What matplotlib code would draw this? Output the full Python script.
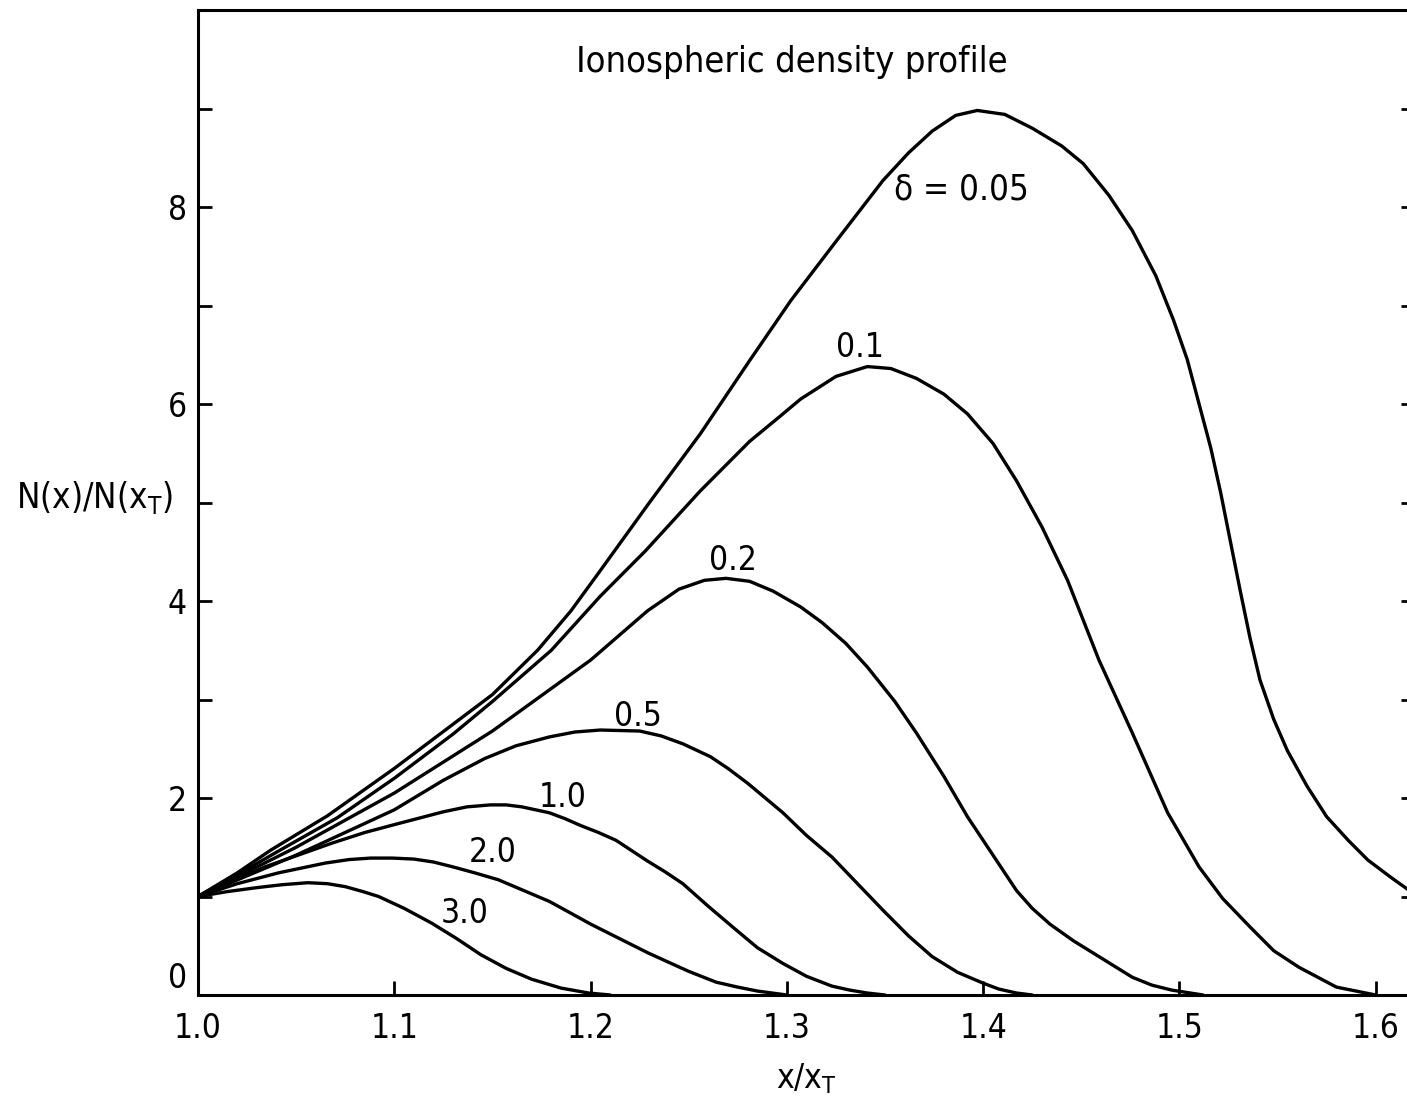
import matplotlib
matplotlib.use("Agg")
import matplotlib.pyplot as plt

plt.rcParams['font.family'] = ['DejaVu Sans']
plt.rcParams['font.stretch'] = 'condensed'

# delta = 0.05
x_005 = [1.000, 1.020, 1.037, 1.066, 1.100, 1.130, 1.150, 1.173, 1.190, 1.205, 1.230, 1.256,
         1.281, 1.302, 1.325, 1.349, 1.362, 1.374, 1.386, 1.397, 1.411, 1.425, 1.440, 1.451,
         1.464, 1.476, 1.488, 1.497, 1.504, 1.510, 1.516, 1.521, 1.526, 1.531, 1.536, 1.541,
         1.548, 1.555, 1.565, 1.575, 1.586, 1.596, 1.608, 1.620]
y_005 = [1.00, 1.24, 1.47, 1.82, 2.30, 2.75, 3.05, 3.50, 3.90, 4.31, 5.00, 5.70,
         6.44, 7.05, 7.65, 8.27, 8.55, 8.77, 8.93, 8.98, 8.94, 8.80, 8.62, 8.44,
         8.12, 7.76, 7.30, 6.85, 6.45, 6.00, 5.55, 5.10, 4.60, 4.10, 3.62, 3.20,
         2.80, 2.48, 2.12, 1.81, 1.57, 1.37, 1.19, 1.02]
# delta = 0.1
x_01 = [1.000, 1.020, 1.040, 1.071, 1.100, 1.130, 1.150, 1.180, 1.205, 1.228, 1.256, 1.281,
        1.295, 1.307, 1.325, 1.341, 1.353, 1.366, 1.380, 1.392, 1.405, 1.417, 1.430, 1.443,
        1.459, 1.476, 1.494, 1.510, 1.522, 1.536, 1.548, 1.561, 1.580, 1.600]
y_01 = [1.00, 1.22, 1.45, 1.80, 2.20, 2.65, 2.98, 3.50, 4.05, 4.51, 5.12, 5.62,
        5.85, 6.05, 6.28, 6.38, 6.36, 6.26, 6.10, 5.90, 5.60, 5.22, 4.75, 4.21,
        3.40, 2.66, 1.85, 1.30, 0.98, 0.69, 0.45, 0.28, 0.08, 0.00]
# delta = 0.2
x_02 = [1.000, 1.050, 1.100, 1.150, 1.200, 1.229, 1.245, 1.258, 1.269, 1.281, 1.293, 1.307,
        1.318, 1.330, 1.341, 1.355, 1.366, 1.380, 1.392, 1.405, 1.417, 1.425, 1.434, 1.446,
        1.459, 1.476, 1.486, 1.496, 1.512]
y_02 = [1.00, 1.50, 2.05, 2.68, 3.40, 3.90, 4.12, 4.21, 4.23, 4.20, 4.10, 3.94,
        3.78, 3.57, 3.33, 2.98, 2.66, 2.22, 1.81, 1.42, 1.06, 0.88, 0.72, 0.55,
        0.39, 0.18, 0.10, 0.05, 0.00]
# delta = 0.5
x_05 = [1.000, 1.050, 1.100, 1.125, 1.146, 1.162, 1.179, 1.192, 1.205, 1.225, 1.236, 1.247,
        1.261, 1.270, 1.280, 1.298, 1.310, 1.323, 1.336, 1.349, 1.362, 1.374, 1.387, 1.400,
        1.408, 1.417, 1.425]
y_05 = [1.00, 1.42, 1.88, 2.18, 2.40, 2.53, 2.62, 2.67, 2.69, 2.68, 2.63, 2.55,
        2.42, 2.30, 2.15, 1.85, 1.62, 1.40, 1.13, 0.86, 0.60, 0.39, 0.23, 0.12,
        0.06, 0.02, 0.00]
# delta = 1.0
x_10 = [1.000, 1.034, 1.068, 1.085, 1.102, 1.125, 1.137, 1.149, 1.157, 1.165, 1.179, 1.187,
        1.195, 1.204, 1.213, 1.229, 1.238, 1.247, 1.260, 1.273, 1.285, 1.298, 1.310, 1.323,
        1.332, 1.341, 1.350]
y_10 = [1.00, 1.30, 1.54, 1.65, 1.74, 1.86, 1.91, 1.93, 1.93, 1.91, 1.85, 1.79,
        1.72, 1.65, 1.57, 1.36, 1.25, 1.13, 0.90, 0.68, 0.48, 0.32, 0.19, 0.09,
        0.05, 0.02, 0.00]
# delta = 2.0
x_20 = [1.000, 1.020, 1.041, 1.065, 1.077, 1.088, 1.099, 1.110, 1.120, 1.130, 1.141, 1.153,
        1.166, 1.179, 1.190, 1.200, 1.214, 1.229, 1.240, 1.250, 1.264, 1.275, 1.285, 1.300]
y_20 = [1.00, 1.13, 1.24, 1.34, 1.375, 1.39, 1.39, 1.38, 1.35, 1.30, 1.24, 1.17,
        1.06, 0.95, 0.83, 0.72, 0.58, 0.43, 0.33, 0.24, 0.13, 0.08, 0.04, 0.00]
# delta = 3.0
x_30 = [1.000, 1.015, 1.030, 1.043, 1.056, 1.066, 1.075, 1.084, 1.092, 1.105, 1.119, 1.132,
        1.144, 1.157, 1.170, 1.185, 1.199, 1.210]
y_30 = [1.00, 1.05, 1.09, 1.12, 1.14, 1.13, 1.10, 1.05, 1.00, 0.88, 0.73, 0.57,
        0.41, 0.27, 0.16, 0.07, 0.02, 0.00]

curves = [(x_005, y_005), (x_01, y_01), (x_02, y_02), (x_05, y_05),
          (x_10, y_10), (x_20, y_20), (x_30, y_30)]
labels = ["\u03b4 = 0.05", "0.1", "0.2", "0.5", "1.0", "2.0", "3.0"]
label_pos = [(1.389, 8.18), (1.337, 6.57), (1.2725, 4.41), (1.224, 2.83),
             (1.186, 2.01), (1.150, 1.45), (1.136, 0.83)]

x_ticks = [1.0, 1.1, 1.2, 1.3, 1.4, 1.5, 1.6]
x_ticklabels = ["1.0", "1.1", "1.2", "1.3", "1.4", "1.5", "1.6"]
y_ticks = [0, 2, 4, 6, 8]

fig = plt.figure(figsize=(14.07, 11.01), dpi=100)
ax = fig.add_axes([198 / 1407, 1 - 995 / 1101, 1217 / 1407, 985 / 1101])

for xs, ys in curves:
    ax.plot(xs, ys, color='black', lw=2.4, solid_joinstyle='round', solid_capstyle='round')

for txt, (tx, ty) in zip(labels, label_pos):
    ax.text(tx, ty, txt, fontsize=25 if txt.startswith("\u03b4") else 24,
            ha='center', va='center')

ax.text(0.488, 0.947, "Ionospheric density profile", transform=ax.transAxes,
        fontsize=26, ha='center', va='center')

ax.set_xlim(1.0, 1.62)
ax.set_ylim(0, 10)
ax.set_xticks(x_ticks)
ax.set_xticklabels(x_ticklabels)
ax.set_yticks(y_ticks)
ax.set_yticks(range(1, 10, 2), minor=True)
ax.tick_params(axis='both', which='both', direction='in', length=10, width=2,
               labelsize=24)
ax.tick_params(axis='x', pad=12)
ax.tick_params(axis='y', pad=8)
ax.tick_params(axis='y', which='both', right=True)
for s in ax.spines.values():
    s.set_linewidth(2.2)
ax.get_yticklabels()[0].set_va('bottom')

ax.set_xlabel(r"x/x$_\mathregular{T}$", fontsize=24, labelpad=12)
fig.text(95 / 1407, 1 - 497 / 1101, r"N(x)/N(x$_\mathregular{T}$)", fontsize=25,
         ha='center', va='center')

fig.savefig("out.png", dpi=100)
